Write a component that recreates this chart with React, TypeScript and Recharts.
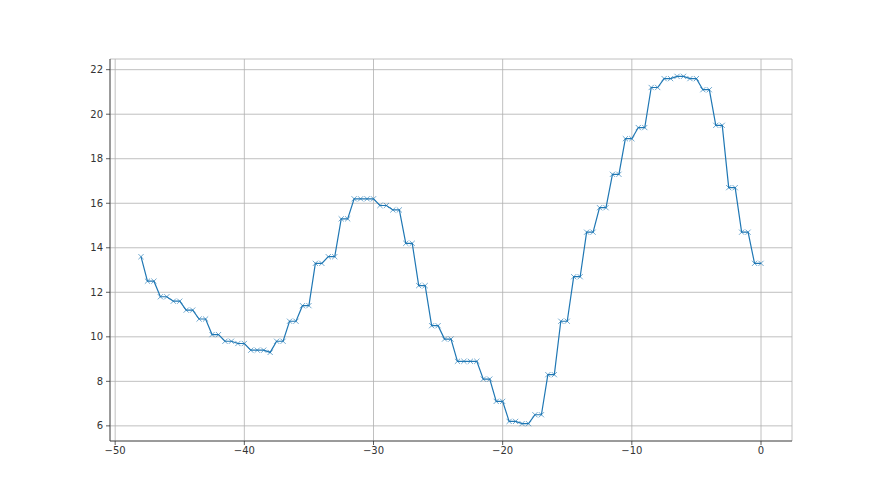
import { LineChart, Line, XAxis, YAxis, CartesianGrid } from 'recharts'

const xs = [
  -48, -47.5, -47, -46.5, -46, -45.5, -45, -44.5, -44, -43.5, -43, -42.5, -42, -41.5, -41, -40.5, -40,
  -39.5, -39, -38.5, -38, -37.5, -37, -36.5, -36, -35.5, -35, -34.5, -34, -33.5, -33, -32.5, -32,
  -31.5, -31, -30.5, -30, -29.5, -29, -28.5, -28, -27.5, -27, -26.5, -26, -25.5, -25, -24.5, -24,
  -23.5, -23, -22.5, -22, -21.5, -21, -20.5, -20, -19.5, -19, -18.5, -18, -17.5, -17, -16.5, -16,
  -15.5, -15, -14.5, -14, -13.5, -13, -12.5, -12, -11.5, -11, -10.5, -10, -9.5, -9, -8.5, -8,
  -7.5, -7, -6.5, -6, -5.5, -5, -4.5, -4, -3.5, -3, -2.5, -2, -1.5, -1, -0.5, 0,
]

const ys = [
  13.6, 12.5, 12.5, 11.8, 11.8, 11.6, 11.6, 11.2, 11.2, 10.8, 10.8, 10.1, 10.1, 9.8, 9.8, 9.7, 9.7,
  9.4, 9.4, 9.4, 9.3, 9.8, 9.8, 10.7, 10.7, 11.4, 11.4, 13.3, 13.3, 13.6, 13.6, 15.3, 15.3,
  16.2, 16.2, 16.2, 16.2, 15.9, 15.9, 15.7, 15.7, 14.2, 14.2, 12.3, 12.3, 10.5, 10.5, 9.9, 9.9,
  8.9, 8.9, 8.9, 8.9, 8.1, 8.1, 7.1, 7.1, 6.2, 6.2, 6.1, 6.1, 6.5, 6.5, 8.3, 8.3,
  10.7, 10.7, 12.7, 12.7, 14.7, 14.7, 15.8, 15.8, 17.3, 17.3, 18.9, 18.9, 19.4, 19.4, 21.2, 21.2,
  21.6, 21.6, 21.7, 21.7, 21.6, 21.6, 21.1, 21.1, 19.5, 19.5, 16.7, 16.7, 14.7, 14.7, 13.3, 13.3,
]

const xTicks = [-50, -40, -30, -20, -10, 0]
const yTicks = [6, 8, 10, 12, 14, 16, 18, 20, 22]

const data = xs.map((x, i) => ({ x, y: ys[i] }))

const fmt = (v: number) => (v < 0 ? `\u2212${Math.abs(v)}` : `${v}`)

const tickStyle = { fontSize: 10, fill: '#333', fontFamily: 'DejaVu Sans' }
const spine = { stroke: '#333', strokeWidth: 0.8 }

const Cross = (props: any) => {
  const { cx, cy, index } = props
  if (cx == null || cy == null) return <g key={index} />
  const r = 2.6
  return (
    <path
      key={index}
      d={`M${cx - r},${cy - r}L${cx + r},${cy + r}M${cx - r},${cy + r}L${cx + r},${cy - r}`}
      stroke="#1f77b4"
      strokeOpacity={0.8}
      strokeWidth={0.8}
      fill="none"
    />
  )
}

export default function App() {
  return (
    <div style={{ position: 'absolute', left: 0, top: 0, width: 880, height: 495, background: '#fff' }}>
      <LineChart
        width={880}
        height={495}
        data={data}
        margin={{ top: 59, right: 88, bottom: 24, left: 60 }}
      >
        <CartesianGrid stroke="#b0b0b0" strokeWidth={0.8} />
        <XAxis
          dataKey="x"
          type="number"
          domain={[-50.4, 2.4]}
          ticks={xTicks}
          tickFormatter={fmt}
          allowDataOverflow
          height={30}
          tick={tickStyle}
          tickSize={4}
          tickMargin={2}
          axisLine={spine}
          tickLine={spine}
        />
        <XAxis
          xAxisId="top"
          dataKey="x"
          type="number"
          orientation="top"
          domain={[-50.4, 2.4]}
          height={0}
          tick={false}
          tickLine={false}
          axisLine={spine}
        />
        <YAxis
          type="number"
          domain={[5.32, 22.48]}
          ticks={yTicks}
          allowDataOverflow
          width={50}
          tick={tickStyle}
          tickSize={4}
          tickMargin={3}
          axisLine={spine}
          tickLine={spine}
        />
        <YAxis
          yAxisId="right"
          orientation="right"
          domain={[5.32, 22.48]}
          width={0}
          tick={false}
          tickLine={false}
          axisLine={spine}
        />
        <Line
          dataKey="y"
          stroke="#1f77b4"
          strokeWidth={1.2}
          dot={Cross}
          activeDot={false}
          isAnimationActive={false}
        />
      </LineChart>
    </div>
  )
}
